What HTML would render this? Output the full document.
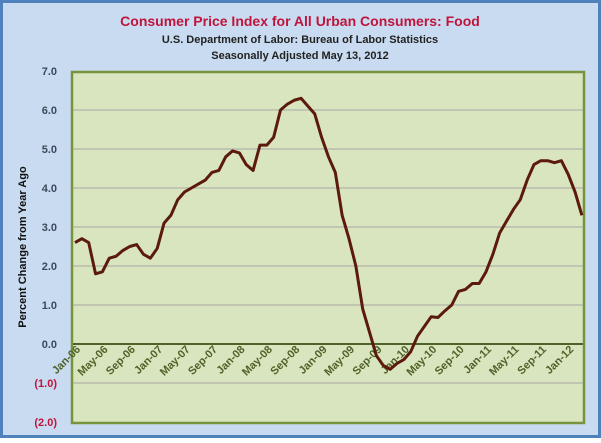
<!DOCTYPE html>
<html><head><meta charset="utf-8"><style>
body{margin:0;width:601px;height:438px;overflow:hidden;font-family:"Liberation Sans",sans-serif}
</style></head><body>
<svg width="601" height="438" xmlns="http://www.w3.org/2000/svg">
<rect x="1.5" y="1.5" width="598" height="435" fill="#c9dbf0" stroke="#4f81bd" stroke-width="3"/>
<text x="300" y="26" text-anchor="middle" font-size="14" font-weight="bold" fill="#c0143c">Consumer Price Index for All Urban Consumers: Food</text>
<text x="300" y="43" text-anchor="middle" font-size="11" font-weight="bold" fill="#222">U.S. Department of Labor: Bureau of Labor Statistics</text>
<text x="300" y="59" text-anchor="middle" font-size="11" font-weight="bold" fill="#222">Seasonally Adjusted May 13, 2012</text>
<rect x="72" y="72" width="512" height="351" fill="#d9e5bf" stroke="#77933c" stroke-width="2.5"/>
<g id="grid"></g><g id="yticks"></g><g id="xticks"></g>
<text transform="translate(26,247) rotate(-90)" text-anchor="middle" font-size="11" font-weight="bold" fill="#111">Percent Change from Year Ago</text>
<polyline id="line" fill="none" stroke="#5b1a0c" stroke-width="3" stroke-linejoin="round"/>
</svg>
<script>
const yTicks=[7,6,5,4,3,2,1,0,-1,-2];
const xLabels=["Jan-06","May-06","Sep-06","Jan-07","May-07","Sep-07","Jan-08","May-08","Sep-08","Jan-09","May-09","Sep-09","Jan-10","May-10","Sep-10","Jan-11","May-11","Sep-11","Jan-12"];
const values=[2.6,2.7,2.6,1.8,1.85,2.2,2.25,2.4,2.5,2.55,2.3,2.2,2.45,3.1,3.3,3.7,3.9,4.0,4.1,4.2,4.4,4.45,4.8,4.95,4.9,4.6,4.45,5.1,5.1,5.3,6.0,6.15,6.25,6.3,6.1,5.9,5.3,4.8,4.4,3.3,2.7,2.0,0.9,0.3,-0.3,-0.55,-0.65,-0.5,-0.4,-0.2,0.2,0.45,0.7,0.68,0.85,1.0,1.35,1.4,1.55,1.55,1.85,2.3,2.85,3.15,3.45,3.7,4.2,4.6,4.7,4.7,4.65,4.7,4.35,3.9,3.3];
const NS="http://www.w3.org/2000/svg";
const y=v=>344-(v*39);
const x=i=>75+i*6.85;
const g=document.getElementById('grid'),yt=document.getElementById('yticks'),xt=document.getElementById('xticks');
yTicks.forEach(v=>{
 if(v<7&&v>-2){const l=document.createElementNS(NS,'line');
 
 
 l.setAttribute('x1',73);l.setAttribute('x2',583);l.setAttribute('y1',y(v));l.setAttribute('y2',y(v));
 l.setAttribute('stroke',v===0?'#4f6228':'#a6a6a6');l.setAttribute('stroke-width',v===0?2:1);g.appendChild(l);}
 const t=document.createElementNS(NS,'text');
 
 
 t.setAttribute('x',57);t.setAttribute('y',y(v)+4);t.setAttribute('text-anchor','end');
 t.setAttribute('font-size','11');t.setAttribute('font-weight','bold');
 t.setAttribute('fill',v<0?'#c0143c':'#3a4a5a');
 t.textContent=v<0?'('+(-v).toFixed(1)+')':v.toFixed(1);yt.appendChild(t);
});
xLabels.forEach((s,k)=>{
 const t=document.createElementNS(NS,'text');
 
 
 const px=x(k*4)+6,py=350;
 t.setAttribute('transform','translate('+px+','+py+') rotate(-45)');
 t.setAttribute('text-anchor','end');t.setAttribute('font-size','11');t.setAttribute('font-weight','bold');
 t.setAttribute('fill','#4f6228');t.textContent=s;xt.appendChild(t);
});
document.getElementById('line').setAttribute('points',values.map((v,i)=>x(i)+','+y(v)).join(' '));
</script>
</body></html>
